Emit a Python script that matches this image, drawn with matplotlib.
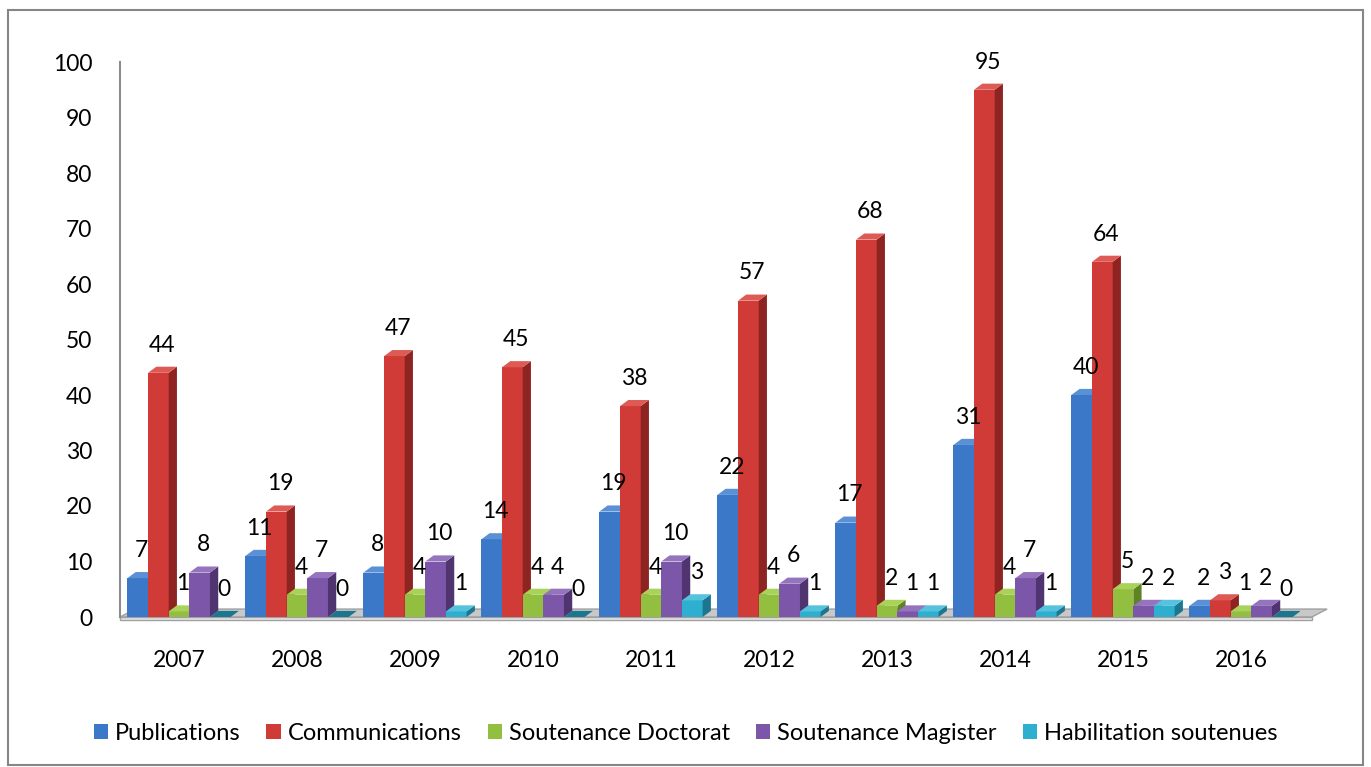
import matplotlib.pyplot as plt
from matplotlib.patches import Polygon, Patch, Rectangle

years = ['2007', '2008', '2009', '2010', '2011', '2012', '2013', '2014', '2015', '2016']
series = ['Publications', 'Communications', 'Soutenance Doctorat',
          'Soutenance Magister', 'Habilitation soutenues']
publications = [7, 11, 8, 14, 19, 22, 17, 31, 40, 2]
communications = [44, 19, 47, 45, 38, 57, 68, 95, 64, 3]
doctorat = [1, 4, 4, 4, 4, 4, 2, 4, 5, 1]
magister = [8, 7, 10, 4, 10, 6, 1, 7, 2, 2]
habilitation = [0, 0, 1, 0, 3, 1, 1, 1, 2, 0]
values = [publications, communications, doctorat, magister, habilitation]

front = ['#3B78C8', '#D13B37', '#92BF3F', '#7C56A8', '#2FAFCF']
side = ['#24538F', '#8E2421', '#5F8224', '#4F3470', '#1B7690']
top = ['#5A90D6', '#DE5A55', '#A9D25A', '#9574BD', '#55C3DD']

plt.rcParams['font.family'] = ['Lato', 'DejaVu Sans']
FS = 16.5

fig = plt.figure(figsize=(13.71, 7.67), dpi=100)
ax = fig.add_axes([120 / 1371, (767 - 617) / 767, (1300 - 120) / 1371, (617 - 62) / 767])
ax.set_xlim(-0.5, 9.5)
ax.set_ylim(0, 100)

w = 0.175
dx = 0.07
dy = 1.1

# floor
fl = Polygon([(-0.5, 0), (9.6, 0), (9.6 + 0.13, dy * 1.3), (-0.5 + 0.13, dy * 1.3)],
             closed=True, facecolor='#C8C8C8', edgecolor='#A0A0A0', lw=1, zorder=1, clip_on=False)
ax.add_patch(fl)
ax.add_patch(Polygon([(-0.5, 0), (9.6, 0), (9.6, -0.5), (-0.5, -0.5)], closed=True,
                     facecolor='#E6E6E6', edgecolor='#A0A0A0', lw=1, zorder=1, clip_on=False))

z = 2
for i in range(len(years)):
    for k in range(len(series)):
        v = values[k][i]
        x = i + (k - 2) * w
        x0, x1 = x - w / 2, x + w / 2
        ax.bar(x, v, width=w, color=front[k], zorder=z)
        ax.add_patch(Polygon([(x1, 0), (x1 + dx, dy), (x1 + dx, v + dy), (x1, v)],
                             closed=True, facecolor=side[k], edgecolor='none', zorder=z))
        ax.add_patch(Polygon([(x0, v), (x1, v), (x1 + dx, v + dy), (x0 + dx, v + dy)],
                             closed=True, facecolor=top[k] if v > 0 else side[k],
                             edgecolor='none', zorder=z))
        ax.annotate(str(v), (x + dx / 2, v + dy), xytext=(0, 8), textcoords='offset points',
                    ha='center', va='bottom', fontsize=FS, zorder=50)
        z += 1

ax.set_yticks(range(0, 101, 10))
ax.set_xticks(range(len(years)))
ax.set_xticklabels(years)
ax.tick_params(axis='both', length=0, labelsize=FS)
ax.tick_params(axis='y', pad=20)
ax.tick_params(axis='x', pad=24)
for s in ['top', 'right', 'bottom']:
    ax.spines[s].set_visible(False)
ax.spines['left'].set_color('#8C8C8C')
ax.spines['left'].set_linewidth(1.5)

handles = [Patch(facecolor=front[k], label=series[k]) for k in range(len(series))]
fig.legend(handles=handles, loc='center', bbox_to_anchor=(0.5, (767 - 733) / 767), ncol=5,
           frameon=False, fontsize=17, handlelength=0.6, handleheight=0.6,
           handletextpad=0.3, columnspacing=1.1)

fig.patches.append(Rectangle((8 / 1371, 2 / 767), 1355 / 1371, 755 / 767, transform=fig.transFigure,
                             fill=False, edgecolor='#868686', lw=1.5))

fig.savefig('out.png', dpi=100)
